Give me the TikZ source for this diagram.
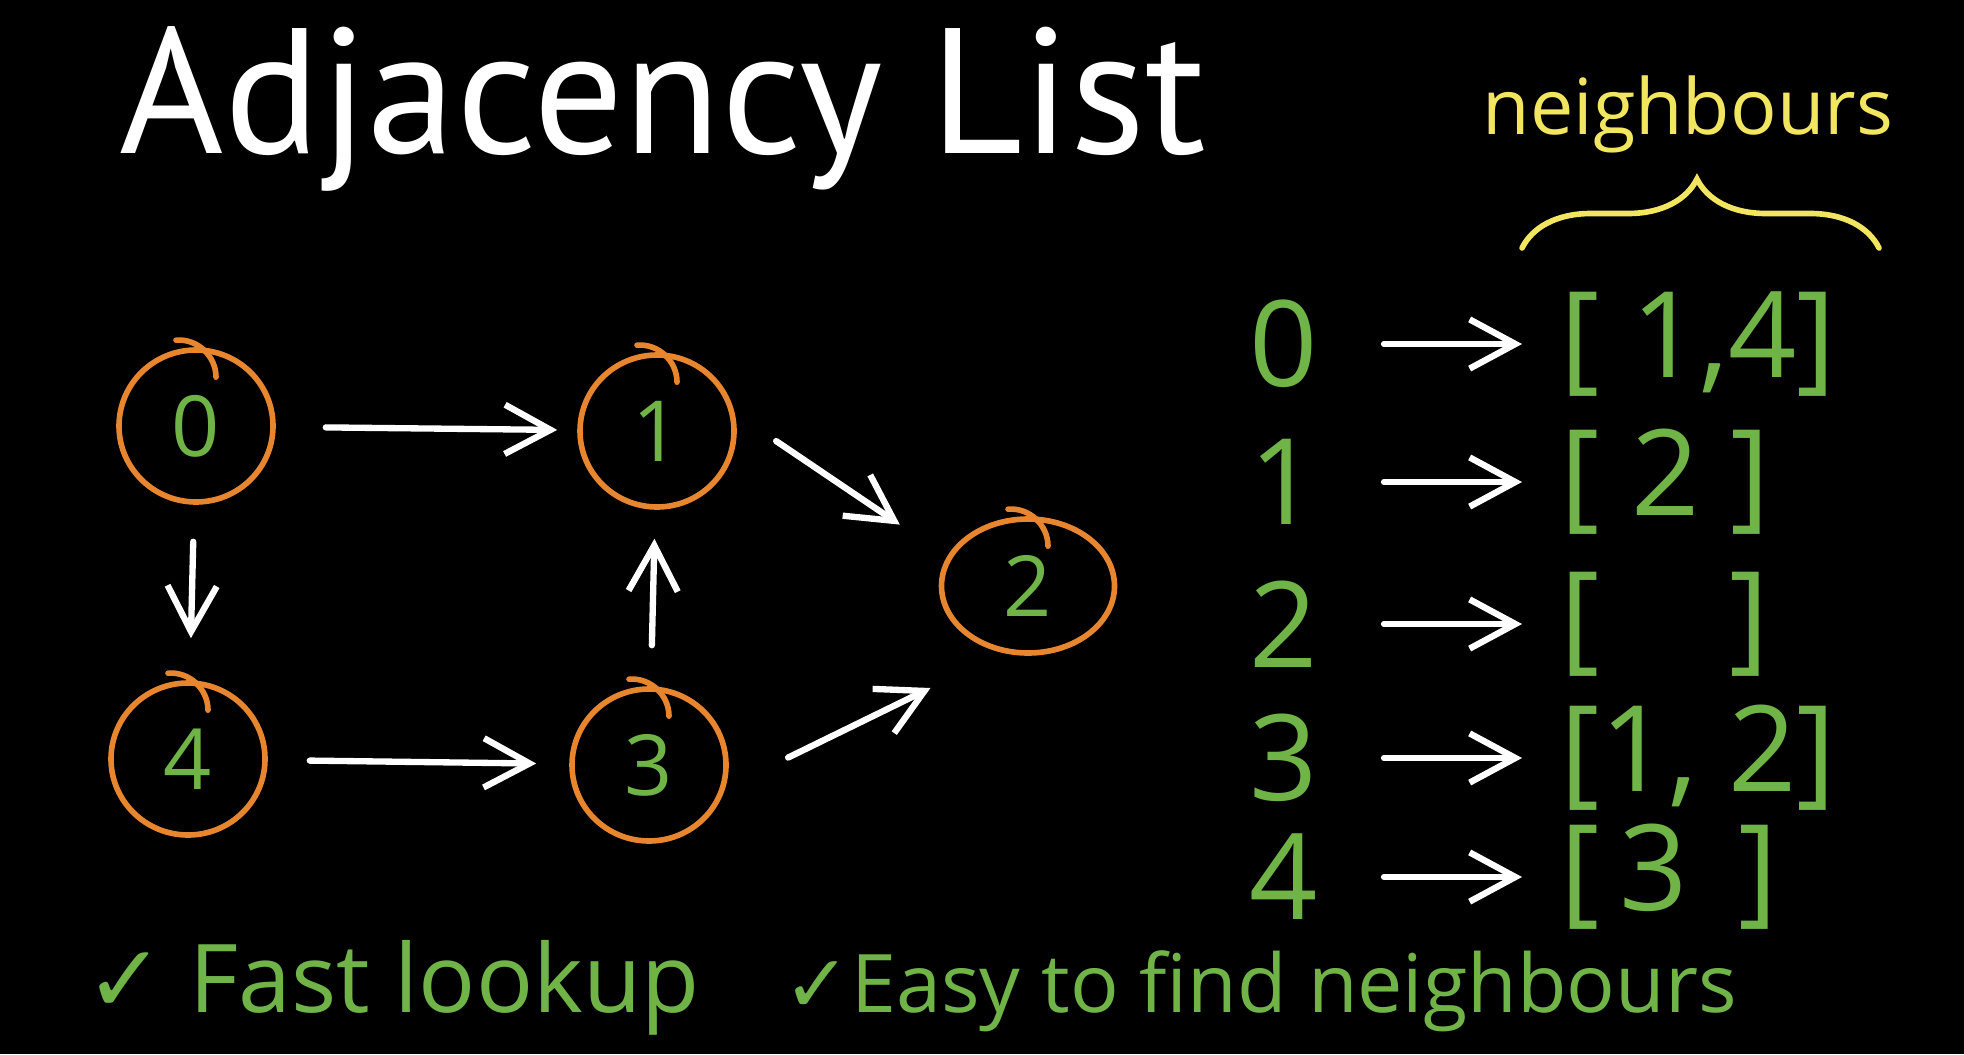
\documentclass[tikz,border=0pt]{standalone}
\usepackage{fontspec}
\setmainfont{Open Sans}
\newfontfamily\titlefont{PT Sans}
\newfontfamily\symfont{DejaVu Sans}
\usetikzlibrary{arrows.meta,shapes.geometric,decorations.pathreplacing}
\definecolor{chalkgreen}{RGB}{112,180,72}
\definecolor{chalkorange}{RGB}{232,134,48}
\definecolor{chalkyellow}{RGB}{242,230,96}
\begin{document}
\begin{tikzpicture}[
  vert/.style={draw=chalkorange,line width=1.6pt,ellipse,minimum width=1.54cm,minimum height=1.52cm,inner sep=0pt,text=chalkgreen,font=\fontsize{24}{24}\selectfont},
  ring/.style={chalkorange,line width=1.6pt,line cap=round},
  edge/.style={white,line width=1.8pt,line cap=round,line join=round,-{Straight Barb[length=13pt,width=14pt]}},
  key/.style={text=chalkgreen,font=\fontsize{34}{34}\selectfont,inner sep=0pt},
  entry/.style={text=chalkgreen,font=\fontsize{34}{34}\selectfont,inner sep=0pt,anchor=west},
  tick/.style={text=chalkgreen,font=\fontsize{27}{27}\selectfont,inner sep=0pt,anchor=base west}]
\fill[black] (0,0) rectangle (19.64,-10.54);
\node[text=white,font=\titlefont\fontsize{50.8}{50.8}\selectfont,inner sep=0pt,anchor=base west] (title) at (1.19,-1.53) {Adjacency List};
\node[vert] (v0) at (1.96,-4.26) {0};
\node[vert] (v1) at (6.57,-4.31) {1};
\node[vert,minimum width=1.73cm,minimum height=1.34cm] (v2) at (10.28,-5.86) {2};
\node[vert] (v3) at (6.49,-7.65) {3};
\node[vert] (v4) at (1.88,-7.59) {4};
\foreach \v in {v0,v1,v2,v3,v4}
  \draw[ring] ([xshift=-0.2cm,yshift=0.07cm]\v.north) to[out=5,in=90] ([xshift=0.2cm,yshift=-0.3cm]\v.north);
\draw[edge,shorten <=0.5cm,shorten >=0.2cm] (v0) -- (v1);
\draw[edge,shorten <=0.37cm,shorten >=0.42cm] (v0) -- (v4);
\draw[edge,shorten <=0.42cm,shorten >=0.33cm] (v4) -- (v3);
\draw[edge,shorten <=0.41cm,shorten >=0.29cm] (v3) -- (v1);
\draw[edge,shorten <=0.5cm,shorten >=0.57cm] (v1.13) -- (v2.160);
\draw[edge,shorten <=0.7cm,shorten >=0.8cm] (v3.-17) -- (v2.-111);
\node[key] (r0) at (12.84,-3.44) {0};
\node[key] (r1) at (12.84,-4.82) {1};
\node[key] (r2) at (12.84,-6.24) {2};
\node[key] (r3) at (12.84,-7.58) {3};
\node[key] (r4) at (12.84,-8.77) {4};
\node[entry] (l0) at (15.6,-3.44) {[ 1,4]};
\node[entry] (l1) at (15.6,-4.82) {[ 2 ]};
\node[entry] (l2) at (15.6,-6.24) {[\hspace{1.3cm}]};
\node[entry] (l3) at (15.6,-7.58) {[1, 2]};
\node[entry] (l4) at (15.6,-8.77) {[\,3\hspace{0.5cm}]};
\foreach \i in {0,...,4}
  \draw[edge,shorten <=1cm,shorten >=0.38cm] (r\i.center) -- (r\i.center -| l\i.west);
\node[text=chalkyellow,font=\fontsize{22}{22}\selectfont,inner sep=0pt,anchor=base west] (nb) at (14.82,-1.35) {neighbours};
\coordinate (bl) at (15.22,-2.48);
\coordinate (br) at (18.79,-2.48);
\draw[chalkyellow,line width=1.6pt,line cap=round,decorate,decoration={brace,amplitude=0.69cm,aspect=0.49}] (bl) -- (br);
\node[tick] (t1) at (0.85,-10.12) {{\symfont ✓} Fast lookup};
\node[tick,font=\fontsize{23}{23}\selectfont] (t2) at (7.83,-10.12) {{\symfont ✓}Easy to find neighbours};
\end{tikzpicture}
\end{document}
